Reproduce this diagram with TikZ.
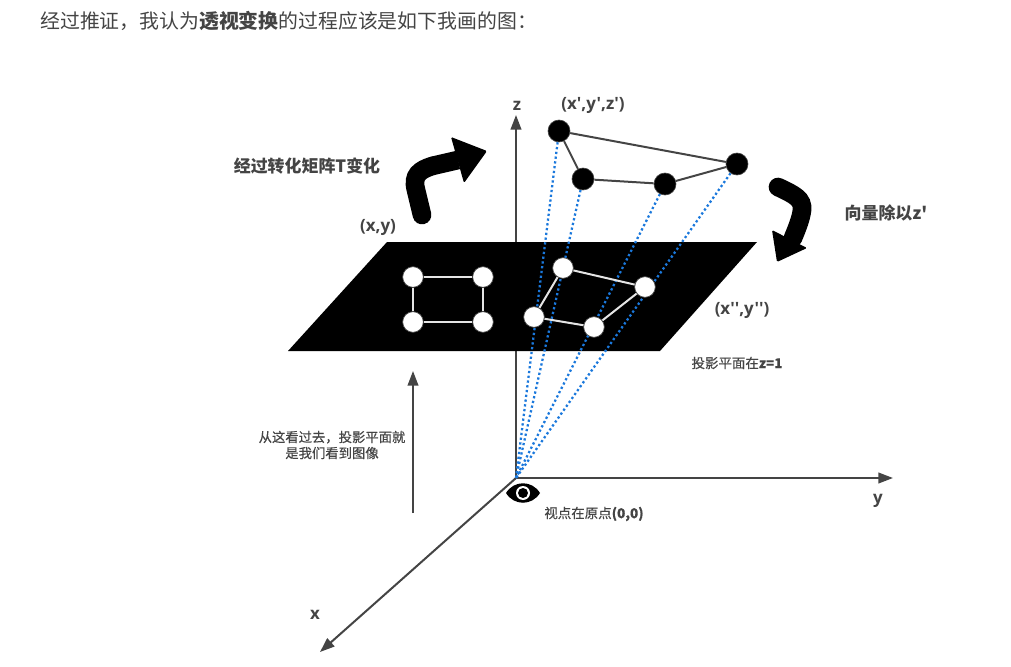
\documentclass[tikz,border=0pt]{standalone}
\usepackage{fontspec}
\usepackage{xcolor}
\setmainfont[Ligatures=TeXOff]{Open Sans}
\newfontfamily\cjk{Noto Sans CJK SC}
\newfontfamily\cjkmid[FakeBold=0.35]{Noto Sans CJK SC}
\usetikzlibrary{arrows, arrows.meta, positioning, calc}
\definecolor{txtgray}{HTML}{444444}
\definecolor{raysblue}{HTML}{1A78DC}
\tikzset{
	axisline/.style={draw=txtgray, line width=1.5pt, -{Triangle[length=11pt,width=8pt]}},
	blackdot/.style={circle, fill=black, draw=txtgray, line width=0.5pt, minimum size=16.5pt, inner sep=0pt},
	whitedot/.style={circle, fill=white, draw=txtgray, line width=0.5pt, minimum size=15.5pt, inner sep=0pt},
	rayline/.style={draw=raysblue, line width=1.7pt, dash pattern=on 1.7pt off 1.9pt},
	darkedge/.style={draw=txtgray, line width=1.5pt},
	whiteedge/.style={draw=white!90!black, line width=1.5pt},
	biglabel/.style={text=txtgray, font=\bfseries\fontsize{12.7}{15}\selectfont, inner sep=0pt},
	smalllabel/.style={text=txtgray, inner sep=0pt, align=center},
	fatarrow/.style={draw=black, line width=14pt, line cap=round}
}
\begin{document}
\begin{tikzpicture}[x=0.75pt,y=-0.75pt]
	\useasboundingbox (0,0) rectangle (1011,667);
	\coordinate (o) at (516,478);
	\coordinate (ztip) at (516,115);
	\coordinate (ytip) at (893,478);
	\coordinate (xtip) at (320,652);
	
	% heading
	\node[anchor=west, text=txtgray, inner sep=0pt, font=\fontsize{14.9}{18}\selectfont\cjk] (head) at (40,21)
	{经过推证，我认为{\bfseries 透视变换}的过程应该是如下我画的图：};
	
	% axes
	\draw[axisline] (o) -- (ztip);
	\draw[axisline] (o) -- (ytip);
	\draw[axisline] (o) -- (xtip);
	
	% plane
	\fill[black] (387,242) -- (757,242) -- (660,351) -- (288,351) -- cycle;
	
	% points before projection
	\node[blackdot] (p1) at (559,131) {};
	\node[blackdot] (p2) at (583,179) {};
	\node[blackdot] (p3) at (665,184) {};
	\node[blackdot] (p4) at (737,164) {};
	
	\draw[rayline] (p1) -- (o);
	\draw[rayline] (p2) -- (o);
	\draw[rayline] (p3) -- (o);
	\draw[rayline] (p4) -- (o);
	
	\draw[darkedge] (p1) -- (p2) -- (p3) -- (p4) -- (p1);
	
	% rectangle on plane
	\node[whitedot] (r1) at (413,277) {};
	\node[whitedot] (r2) at (483,277) {};
	\node[whitedot] (r3) at (483,322) {};
	\node[whitedot] (r4) at (413,322) {};
	\draw[whiteedge] (r1) -- (r2) -- (r3) -- (r4) -- (r1);
	
	% projected points
	\node[whitedot] (q1) at (563,268) {};
	\node[whitedot] (q2) at (645,287) {};
	\node[whitedot] (q3) at (594,327) {};
	\node[whitedot] (q4) at (534,317) {};
	\draw[whiteedge] (q1) -- (q2) -- (q3) -- (q4) -- (q1);
	
	% fat arrows
	\draw[fatarrow, line cap=butt] (458,160) -- (432,166);
	\draw[fatarrow] (422,215) -- (416,190) .. controls (412,175) and (420,170) .. (432,166);
	\fill[black, rounded corners=1pt] (451,137) -- (487,151) -- (464,183) -- cycle;
	\draw[fatarrow] (778,187) .. controls (795,195) and (803,199) .. (802,210) .. controls (801,218) and (798,226) .. (793,238);
	\fill[black, rounded corners=1pt] (772,230) -- (807,248) -- (777,262) -- cycle;
	
	% view arrow
	\coordinate (vstart) at (413,513);
	\coordinate (vtip) at (413,371);
	\draw[draw=txtgray, line width=1.4pt, -{Triangle[length=11pt,width=8pt]}] (vstart) -- (vtip);
	
	% eye
	\fill[black] (506,493) .. controls (514,480) and (532,480) .. (540,493) .. controls (532,506) and (514,506) .. (506,493) -- cycle;
	\fill[white] (523,493) circle (7);
	\fill[black] (523,493) circle (5);
	
	% labels
	\node[biglabel] (zlbl) at (517,106) {z};
	\node[biglabel] (ylbl) at (878,501) {y};
	\node[biglabel] (xlbl) at (315,615) {x};
	\node[biglabel] (plbl) at (593,105) {(x',y',z')};
	\node[biglabel] (xylbl) at (378,227) {(x,y)};
	\node[biglabel] (qlbl) at (742,310) {(x'',y'')};
	\node[biglabel, font=\bfseries\fontsize{12.7}{15}\selectfont\cjk] (tlbl) at (307,166) {经过转化矩阵T变化};
	\node[biglabel, font=\bfseries\fontsize{12.7}{15}\selectfont\cjk] (dlbl) at (886,213) {向量除以z'};
	\node[smalllabel, font=\fontsize{10.1}{12}\selectfont\cjkmid] (plane) at (737,363) {投影平面在{\bfseries z=1}};
	\node[smalllabel, font=\fontsize{10}{12}\selectfont\cjkmid] (vlbl) at (332,445) {从这看过去，投影平面就\\是我们看到图像};
	\node[smalllabel, font=\fontsize{10.1}{12}\selectfont\cjkmid] (olbl) at (594,514) {视点在原点{\bfseries (0,0)}};
\end{tikzpicture}
\end{document}
